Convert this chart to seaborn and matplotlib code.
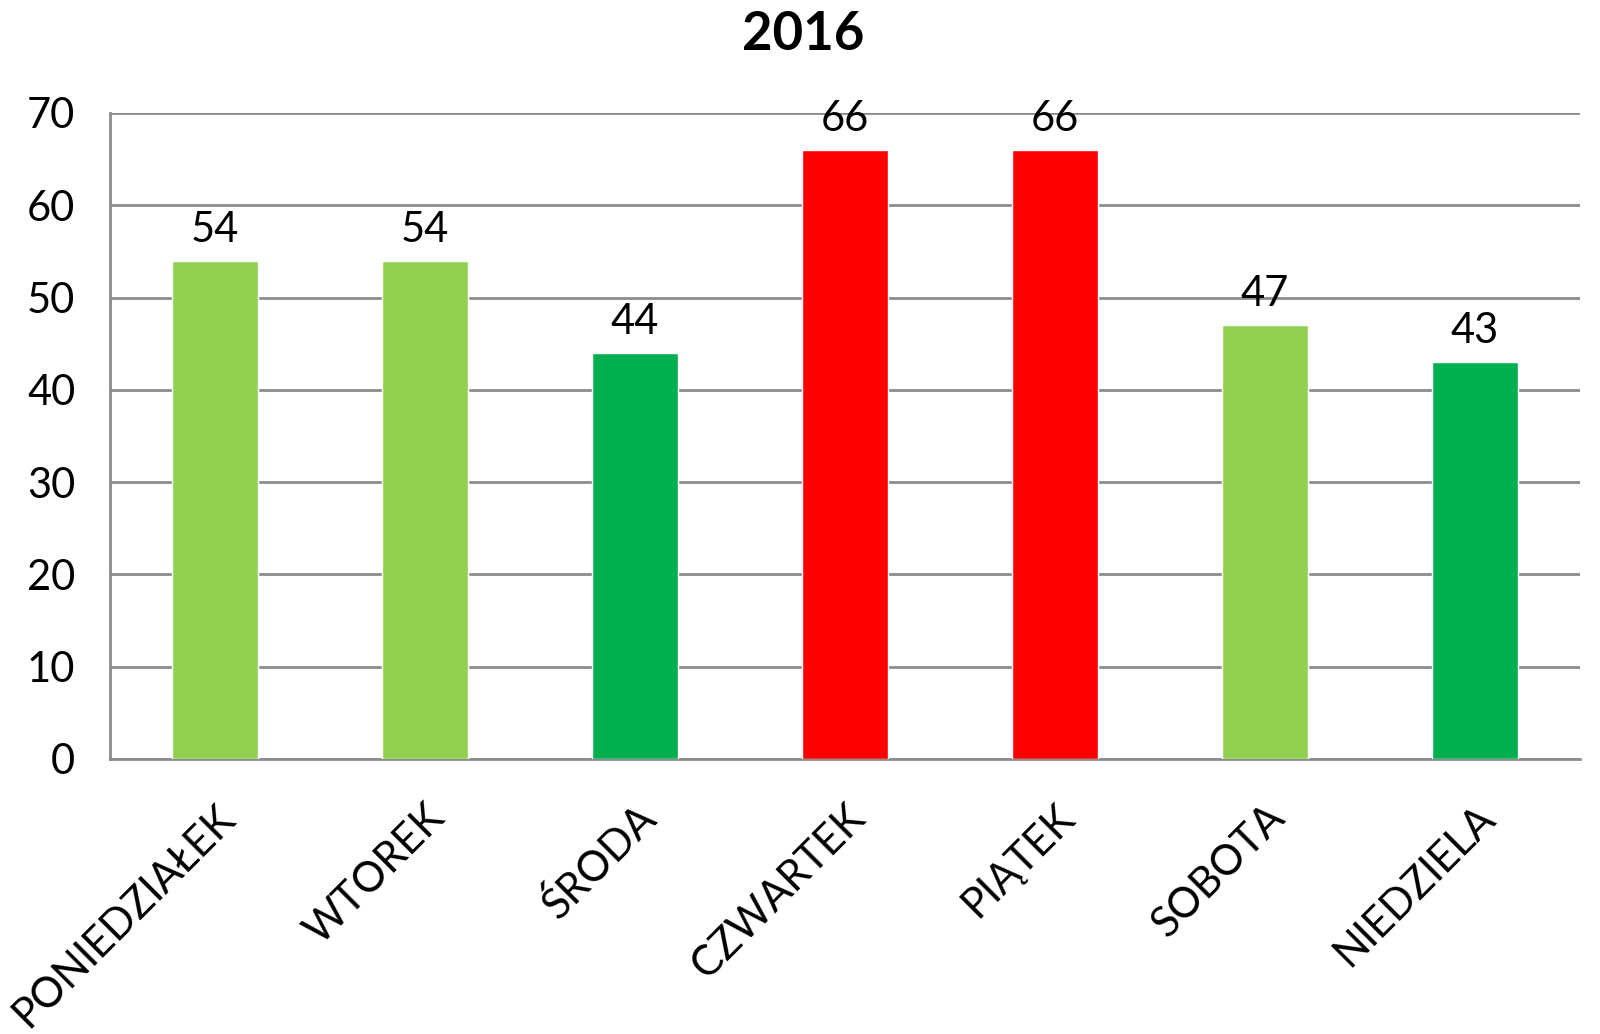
import matplotlib
matplotlib.use("Agg")
import matplotlib.pyplot as plt
import seaborn as sns
import pandas as pd
from matplotlib.ticker import FixedLocator

# data
days = ["PONIEDZIAŁEK", "WTOREK", "ŚRODA", "CZWARTEK", "PIĄTEK", "SOBOTA", "NIEDZIELA"]
counts = [54, 54, 44, 66, 66, 47, 43]
bar_colors = ["#92D050", "#92D050", "#00B050", "#FF0000", "#FF0000", "#92D050", "#00B050"]

df = pd.DataFrame({"day": days, "count": counts})

sns.set_style("white")
plt.rcParams["font.family"] = ["Lato", "DejaVu Sans"]
plt.rcParams["text.color"] = "black"
plt.rcParams["xtick.labelcolor"] = "black"
plt.rcParams["ytick.labelcolor"] = "black"

fig = plt.figure(figsize=(16, 10.34), dpi=100)
ax = fig.add_axes([110 / 1600, 1 - 759 / 1034, 1470 / 1600, (759 - 113) / 1034])

sns.barplot(data=df, x="day", y="count", hue="day", palette=bar_colors,
            legend=False, width=0.405, saturation=1, ax=ax, zorder=3)

# value labels on top of the bars
for i, v in enumerate(counts):
    ax.text(i, v + 1.3, str(v), ha="center", va="bottom", fontsize=30, zorder=4)

ax.set_ylim(0, 70)
ax.set_xlim(-0.5, len(days) - 0.5)
ax.set_yticks(range(0, 71, 10))
ax.yaxis.grid(True, color="#8c8c8c", linewidth=2, zorder=0)
ax.tick_params(axis="y", labelsize=30, length=15, width=2, color="#8c8c8c", pad=10)

# category ticks sit between the bars
ax.xaxis.set_minor_locator(FixedLocator([i - 0.5 for i in range(len(days) + 1)]))
ax.tick_params(axis="x", which="major", length=0, pad=28)
ax.tick_params(axis="x", which="minor", length=14, width=2, color="#8c8c8c")
ax.set_xticks(range(len(days)))
ax.set_xticklabels(days, rotation=45, ha="right", rotation_mode="anchor", fontsize=30)

for side in ["top", "right"]:
    ax.spines[side].set_visible(False)
for side in ["left", "bottom"]:
    ax.spines[side].set_color("#8c8c8c")
    ax.spines[side].set_linewidth(2)

ax.set_xlabel("")
ax.set_ylabel("")
fig.text(803 / 1600, 1 - 35 / 1034, "2016", ha="center", va="center",
         fontsize=38, fontweight="bold")

fig.savefig("out.png", dpi=100)
